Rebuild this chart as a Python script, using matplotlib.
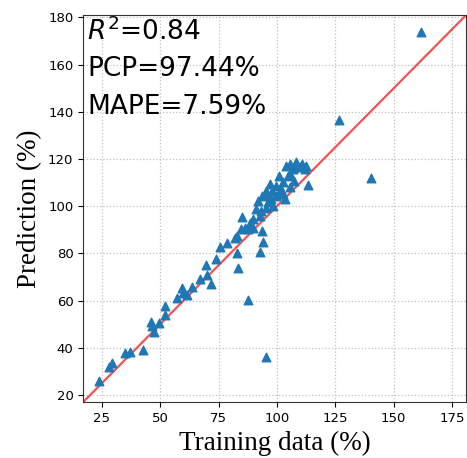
import matplotlib
matplotlib.use("Agg")
import matplotlib.pyplot as plt

# training targets vs model predictions (%)
train = [23.6, 28.0, 29.4, 35.1, 36.9, 42.6, 46.0, 46.5, 47.5, 49.3,
         52.1, 52.1, 57.1, 59.3, 59.9, 61.4, 63.5, 67.1, 69.6, 69.9,
         71.6, 73.9, 75.6, 78.7, 82.0, 82.7, 83.4, 83.0, 84.8, 85.2,
         86.2, 87.6, 88.4, 89.8, 90.9, 92.6, 93.8, 94.0, 92.6, 95.5,
         91.9, 93.8, 95.5, 96.2, 97.6, 98.3, 99.7, 100.8, 101.9, 102.8,
         104.0, 104.7, 105.7, 106.8, 107.5, 108.3, 109.7, 110.8, 112.5, 113.2,
         105.4, 95.5, 93.3, 99.7, 101.1, 89.8, 87.6, 161.5, 126.7, 140.2,
         110.4, 112.2, 96.9, 102.4, 103.3, 105.4, 107.5, 97.8, 95.2]
pred = [26.0, 32.0, 33.5, 38.0, 38.4, 38.9, 50.8, 49.1, 46.9, 50.5,
        57.9, 54.0, 61.1, 65.4, 63.3, 62.6, 65.8, 69.2, 74.9, 70.8,
        67.2, 77.7, 82.9, 84.6, 86.7, 80.3, 73.9, 87.4, 90.2, 95.6,
        90.9, 60.1, 93.1, 94.5, 98.7, 95.9, 89.5, 84.8, 80.6, 36.3,
        102.3, 104.4, 106.5, 101.6, 103.0, 100.1, 108.6, 112.9, 107.2, 110.1,
        117.1, 112.9, 108.0, 115.7, 110.8, 118.6, 116.5, 117.9, 117.1, 108.9,
        117.9, 99.4, 98.0, 104.4, 105.1, 90.9, 90.2, 173.9, 136.7, 111.8,
        117.1, 116.0, 109.4, 105.1, 103.0, 113.6, 116.6, 106.4, 105.1]

r2 = 0.84
pcp = 97.44
mape = 7.59
lims = [17, 181]

fig = plt.figure(figsize=(4.67, 4.58), dpi=100)
ax = fig.add_axes([0.178, 0.122, 0.82, 0.845])

ax.scatter(train, pred, marker='^', s=38, color='#1f77b4', zorder=3)
ax.plot(lims, lims, color='#f04040', lw=1.6, alpha=0.9, zorder=2)

ax.set_xlim(lims)
ax.set_ylim(lims)
ax.set_xticks([25, 50, 75, 100, 125, 150, 175])
ax.set_yticks(range(20, 181, 20))
ax.tick_params(labelsize=9.5)
ax.grid(True, linestyle=':', color='#c0c0c0', lw=0.9)
for sp in ax.spines.values():
    sp.set_color('#333333')

ax.set_xlabel('Training data (%)', family='Liberation Serif', fontsize=19.5)
ax.set_ylabel('Prediction (%)', family='Liberation Serif', fontsize=19.5)

ax.text(0.01, 0.995, '$R^2$=%.2f' % r2, transform=ax.transAxes,
        fontsize=19, va='top', ha='left')
ax.text(0.01, 0.895, 'PCP=%.2f%%' % pcp, transform=ax.transAxes,
        fontsize=19, va='top', ha='left')
ax.text(0.01, 0.797, 'MAPE=%.2f%%' % mape, transform=ax.transAxes,
        fontsize=19, va='top', ha='left')

fig.savefig('out.png', dpi=100)
